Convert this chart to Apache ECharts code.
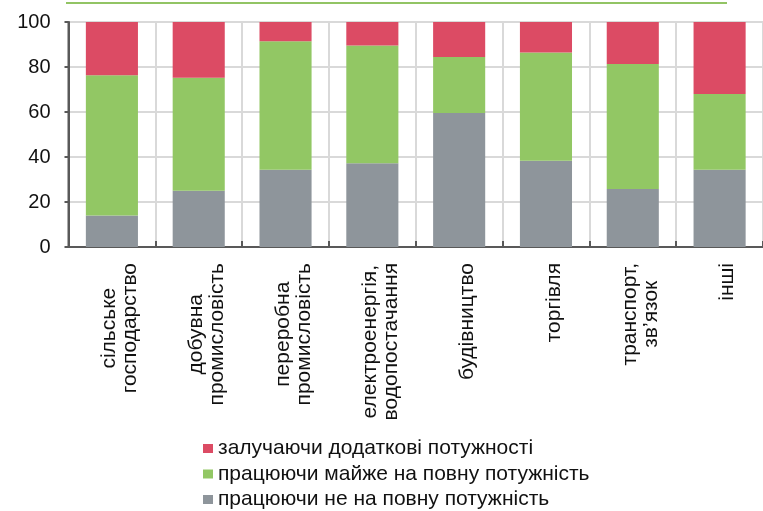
<!DOCTYPE html>
<html>
<head>
<meta charset="utf-8">
<script src="https://cdn.jsdelivr.net/npm/echarts@6/dist/echarts.min.js"></script>
<style>
html,body{margin:0;padding:0;background:#fff;}
#c{width:763px;height:511px;}
</style>
</head>
<body>
<div id="c"></div>
<script>
const categories = [
  'сільське\nгосподарство',
  'добувна\nпромисловість',
  'переробна\nпромисловість',
  'електроенергія,\nводопостачання',
  'будівництво',
  'торгівля',
  'транспорт,\nзв’язок',
  'інші'
];
const seriesNames = [
  'залучаючи додаткові потужності',
  'працюючи майже на повну потужність',
  'працюючи не на повну потужність'
];
const notFull = [14, 25, 34.3, 37.2, 59.6, 38.3, 25.8, 34.3];
const almostFull = [62.3, 50.2, 57.2, 52.4, 24.8, 48.2, 55.5, 33.7];
const extraCap = [23.7, 24.8, 8.5, 10.4, 15.6, 13.5, 18.7, 32.0];
const yTicks = [0, 20, 40, 60, 80, 100];

const FONT = "'Liberation Sans', Arial, sans-serif";
const chart = echarts.init(document.getElementById('c'));
chart.setOption({
  animation: false,
  backgroundColor: '#fff',
  textStyle: { fontFamily: FONT, color: '#111' },
  grid: {
    left: 68.5, top: 22, bottom: 264, right: -8.7,
    show: true, borderColor: '#595959', borderWidth: 2, backgroundColor: 'transparent'
  },
  graphic: [{
    type: 'rect',
    shape: { x: 66, y: 2, width: 661, height: 2 },
    style: { fill: '#92C464' }
  }],
  legend: {
    orient: 'vertical',
    left: 203, top: 438, height: 120, padding: 0,
    itemWidth: 10, itemHeight: 9, itemGap: 4.5,
    icon: 'rect',
    data: seriesNames,
    textStyle: { fontFamily: FONT, fontSize: 21, lineHeight: 21, color: '#111' }
  },
  xAxis: {
    type: 'category',
    data: categories,
    axisLine: { lineStyle: { color: '#595959', width: 2 } },
    axisTick: { show: true, inside: true, length: 6, lineStyle: { color: '#595959', width: 2 } },
    splitLine: { show: true, lineStyle: { color: '#d9d9d9', width: 2 } },
    axisLabel: {
      interval: 0, rotate: 90, margin: 16,
      padding: [16, 0, 0, 0],
      fontFamily: FONT, fontSize: 21, color: '#111',
      formatter: v => v.split('\n').map(s => '{c|' + s + '}').join('\n'),
      rich: { c: { align: 'center', fontFamily: FONT, fontSize: 21, lineHeight: 21, color: '#111' } }
    }
  },
  yAxis: {
    type: 'value',
    min: yTicks[0], max: yTicks[yTicks.length - 1], interval: 20,
    axisLine: { show: true, lineStyle: { color: '#595959', width: 2 } },
    axisTick: { show: true, length: 4, lineStyle: { color: '#595959', width: 2 } },
    splitLine: { show: true, lineStyle: { color: '#d9d9d9', width: 2 } },
    axisLabel: { margin: 18, fontFamily: FONT, fontSize: 20, color: '#111' }
  },
  series: [
    { name: seriesNames[2], type: 'bar', stack: 's', data: notFull, barWidth: '60%', itemStyle: { color: '#8E959B' } },
    { name: seriesNames[1], type: 'bar', stack: 's', data: almostFull, barWidth: '60%', itemStyle: { color: '#92C764' } },
    { name: seriesNames[0], type: 'bar', stack: 's', data: extraCap, barWidth: '60%', itemStyle: { color: '#DC4B64' } }
  ]
});
</script>
</body>
</html>
